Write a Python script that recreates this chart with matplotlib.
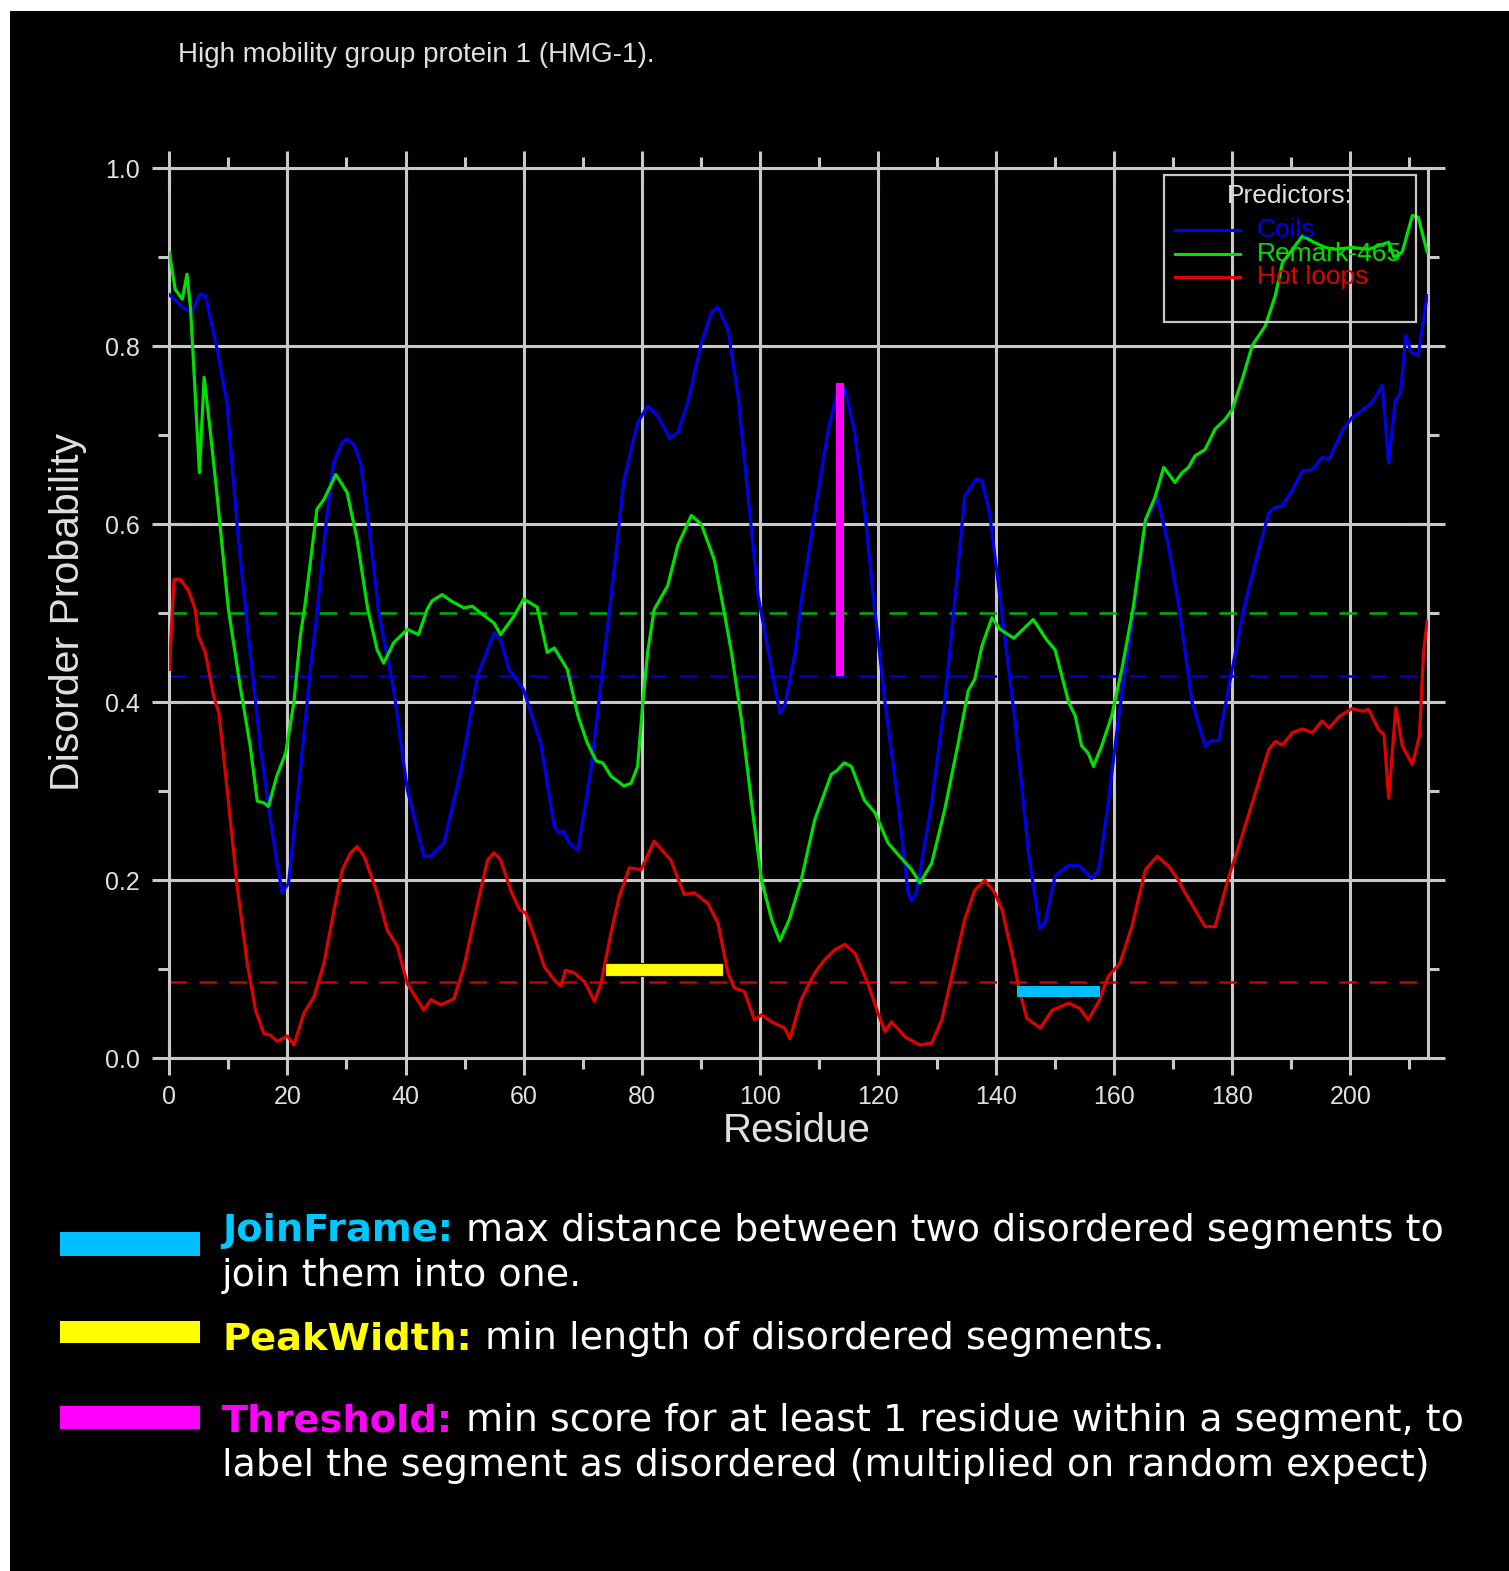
import numpy as np
import matplotlib
matplotlib.use("Agg")
import matplotlib.pyplot as plt
from matplotlib.patches import Rectangle

# ---------------- data ----------------
title = "High mobility group protein 1 (HMG-1)."
x_label = "Residue"
y_label = "Disorder Probability"
series_names = ["Coils", "Remark-465", "Hot loops"]
series_colors = ["#0000ee", "#00e000", "#e00000"]
threshold_colors = ["#0000c8", "#00b400", "#c80000"]

coils_x = [0, 1, 2.2, 3.8, 5.2, 6.1, 8.1, 9.75, 11.5, 12.9, 15.4, 17.7, 19.1, 20.2, 22.2, 23.9,
           25.0, 26.5, 27.8, 29.3, 30.1, 31.2, 32.4, 33.8, 35.5, 38, 40.3, 43.1, 44.3, 46.5, 49.4,
           52.2, 55, 56.1, 57.5, 60, 62.9, 65.2, 66, 66.8, 67.7, 69.2, 71.4, 74.5, 77, 79.3, 81,
           82.7, 84.7, 86.1, 87.8, 90.1, 91.8, 92.9, 94.6, 96.3, 98, 99.7, 102, 103.4, 104.2, 106,
           107, 109.3, 111.6, 113.2, 114.4, 116, 117.8, 119.2, 121.2, 123.4, 125.1, 125.7, 126.5,
           129.1, 131.3, 133, 134.7, 136.7, 137.6, 138.9, 141, 143.2, 145.5, 147.4, 148.3, 150,
           152.3, 154.2, 156.2, 157.4, 159, 160.7, 163.4, 165.3, 167.3, 169.2, 171, 173.2, 175.4,
           176.6, 177.7, 180, 182, 183.9, 186.2, 187.3, 188.5, 190.2, 191.9, 193.5, 195.2, 196.4,
           198.7, 200.3, 202, 203.7, 205.4, 206.5, 207.6, 208.5, 209.4, 210.3, 211.5, 213]
coils_y = [0.858, 0.852, 0.844, 0.838, 0.859, 0.857, 0.797, 0.737, 0.598, 0.505, 0.351, 0.242,
           0.186, 0.197, 0.324, 0.437, 0.5, 0.598, 0.669, 0.692, 0.696, 0.69, 0.669, 0.598, 0.5,
           0.414, 0.302, 0.227, 0.227, 0.242, 0.324, 0.43, 0.478, 0.47, 0.437, 0.414, 0.354, 0.26,
           0.253, 0.255, 0.242, 0.234, 0.324, 0.5, 0.65, 0.714, 0.733, 0.722, 0.697, 0.703, 0.737,
           0.804, 0.838, 0.844, 0.819, 0.745, 0.632, 0.52, 0.437, 0.388, 0.396, 0.456, 0.512,
           0.613, 0.707, 0.75, 0.752, 0.706, 0.613, 0.52, 0.4, 0.287, 0.186, 0.177, 0.186, 0.287,
           0.4, 0.512, 0.632, 0.651, 0.649, 0.613, 0.5, 0.38, 0.231, 0.146, 0.152, 0.205, 0.217,
           0.216, 0.202, 0.212, 0.287, 0.38, 0.506, 0.602, 0.63, 0.576, 0.506, 0.4, 0.351, 0.357,
           0.357, 0.437, 0.506, 0.557, 0.613, 0.619, 0.621, 0.639, 0.66, 0.661, 0.675, 0.673,
           0.706, 0.72, 0.728, 0.737, 0.756, 0.669, 0.739, 0.748, 0.812, 0.793, 0.79, 0.857]

remark_x = [0, 1, 2.2, 3, 3.6, 4.1, 5.1, 5.9, 6.9, 8.1, 9.5, 10, 12, 13.7, 14.9, 16, 16.8, 18.2,
            19.7, 21.1, 22.2, 23, 25, 26.2, 28.2, 30.1, 31.8, 33.6, 35.2, 36.3, 38, 40.3, 42.2,
            43.7, 44.5, 46.2, 47.7, 49.9, 51.3, 52.8, 55, 56.1, 58.4, 60, 62.3, 64, 65.2, 67.4,
            69.2, 70.8, 72.3, 73.4, 74.8, 77, 78.2, 79.3, 80.2, 81, 82.1, 84.4, 86.1, 88.4, 90.1,
            92.3, 94, 95.2, 96.9, 98.6, 100.3, 102, 103.4, 105, 107, 109.3, 112.1, 113, 114.3,
            115.5, 117.7, 119.5, 121.7, 123.4, 125.7, 127.1, 129.1, 131.3, 133.6, 135.3, 136.4,
            137.6, 139.3, 140.7, 143, 146.3, 148.6, 150, 152.3, 153.4, 154.5, 155.6, 156.5,
            157.9, 159.6, 161.3, 163.2, 165.3, 166.9, 168.4, 170.3, 171.5, 172.6, 173.7, 175.4,
            177.1, 178.8, 180, 181.7, 183.4, 185.6, 187.3, 188.5, 190.2, 191.9, 193.8, 195.8,
            197.5, 200.3, 203.1, 204.8, 206.5, 207.4, 208.8, 210.5, 211.5, 213]
remark_y = [0.905, 0.864, 0.853, 0.881, 0.842, 0.782, 0.658, 0.765, 0.707, 0.632, 0.538, 0.505,
            0.418, 0.351, 0.289, 0.287, 0.283, 0.317, 0.343, 0.4, 0.475, 0.51, 0.617, 0.628,
            0.656, 0.636, 0.583, 0.505, 0.459, 0.444, 0.467, 0.482, 0.476, 0.505, 0.514, 0.521,
            0.514, 0.506, 0.508, 0.5, 0.489, 0.476, 0.497, 0.516, 0.507, 0.456, 0.461, 0.437,
            0.385, 0.354, 0.334, 0.332, 0.317, 0.306, 0.309, 0.328, 0.4, 0.456, 0.504, 0.531,
            0.576, 0.61, 0.6, 0.56, 0.5, 0.456, 0.38, 0.287, 0.2, 0.156, 0.132, 0.156, 0.2, 0.268,
            0.319, 0.323, 0.332, 0.328, 0.29, 0.276, 0.242, 0.229, 0.212, 0.197, 0.219, 0.279,
            0.354, 0.413, 0.426, 0.463, 0.495, 0.482, 0.472, 0.493, 0.47, 0.459, 0.4, 0.385,
            0.351, 0.343, 0.328, 0.351, 0.385, 0.437, 0.505, 0.605, 0.63, 0.664, 0.647, 0.658,
            0.664, 0.677, 0.684, 0.707, 0.718, 0.729, 0.763, 0.801, 0.823, 0.857, 0.894, 0.909,
            0.924, 0.917, 0.911, 0.909, 0.911, 0.909, 0.913, 0.917, 0.9, 0.906, 0.947, 0.945, 0.906]

hot_x = [0, 0.8, 1.9, 3.3, 4.4, 4.9, 6.1, 7.5, 8.4, 9.8, 11.5, 13.2, 14.6, 16, 17.1, 18.3, 20,
         21.1, 22.8, 24.5, 26.2, 27.9, 29.3, 30.7, 31.8, 33, 35.2, 36.9, 38.6, 40.3, 43.1, 44.3,
         46, 48.2, 49.9, 52.2, 53.9, 55, 56.1, 57.8, 59.3, 60.4, 61.8, 63.5, 65.2, 66.3, 67.1,
         68.6, 70.3, 72, 73.1, 74.8, 76.2, 77.9, 79.9, 82.1, 83.8, 84.9, 87.2, 88.9, 91.2, 92.9,
         94.6, 95.7, 97.4, 99.1, 100.3, 102, 104.2, 105.1, 107, 109.3, 111, 112.7, 114.4, 116.1,
         118.3, 120, 121.2, 122.3, 124.6, 127.1, 129.1, 130.8, 132.5, 134.7, 136.4, 138.1,
         139.8, 141, 142.7, 143.8, 145.2, 147.5, 149.5, 152.3, 154.2, 155.6, 157.4, 159, 161,
         163, 165.3, 167.3, 169.2, 170.9, 172, 175.4, 177.1, 179.4, 181.1, 183.4, 186.2, 187.3,
         188.5, 190.2, 191.9, 193.6, 195.2, 196.4, 198.1, 200.3, 202, 203.1, 204.8, 205.7,
         206.5, 207.7, 208.8, 210.5, 211.7, 212.4, 213]
hot_y = [0.437, 0.538, 0.538, 0.525, 0.504, 0.475, 0.456, 0.407, 0.388, 0.302, 0.193, 0.107,
         0.054, 0.028, 0.026, 0.019, 0.025, 0.015, 0.051, 0.069, 0.107, 0.167, 0.212, 0.231,
         0.238, 0.227, 0.186, 0.144, 0.126, 0.084, 0.054, 0.066, 0.06, 0.067, 0.103, 0.174,
         0.223, 0.231, 0.223, 0.189, 0.167, 0.163, 0.137, 0.103, 0.088, 0.081, 0.099, 0.096,
         0.086, 0.064, 0.084, 0.141, 0.182, 0.214, 0.212, 0.244, 0.231, 0.223, 0.184, 0.186,
         0.174, 0.152, 0.096, 0.079, 0.075, 0.043, 0.049, 0.041, 0.034, 0.022, 0.066, 0.096,
         0.111, 0.122, 0.128, 0.118, 0.084, 0.051, 0.03, 0.041, 0.024, 0.015, 0.017, 0.043,
         0.092, 0.156, 0.189, 0.2, 0.186, 0.167, 0.118, 0.081, 0.045, 0.034, 0.054, 0.062,
         0.056, 0.043, 0.064, 0.092, 0.107, 0.148, 0.212, 0.227, 0.216, 0.2, 0.186, 0.148,
         0.148, 0.204, 0.238, 0.287, 0.347, 0.356, 0.352, 0.366, 0.37, 0.366, 0.379, 0.371,
         0.384, 0.393, 0.39, 0.392, 0.369, 0.364, 0.292, 0.394, 0.351, 0.33, 0.362, 0.456, 0.491]

thresholds = [0.43, 0.50, 0.086]          # Coils, Remark-465, Hot loops cut-offs
threshold_bar_x = 113.6                   # magenta Threshold marker
threshold_bar_range = [0.43, 0.759]
peakwidth_range = [73.8, 93.8]            # yellow PeakWidth marker
peakwidth_level = [0.0925, 0.107]
joinframe_range = [143.6, 157.6]          # cyan JoinFrame marker
joinframe_level = [0.069, 0.081]

x_major = list(range(0, 201, 20))
x_minor = list(range(10, 211, 20))
y_major = [0.0, 0.2, 0.4, 0.6, 0.8, 1.0]
y_minor = [0.1, 0.3, 0.5, 0.7, 0.9]
x_max = 213.1

notes = [
    ("JoinFrame:", "#00c8ff", "max distance between two disordered segments to", "join them into one."),
    ("PeakWidth:", "#ffff00", "min length of disordered segments.", None),
    ("Threshold:", "#ff00ff", "min score for at least 1 residue within a segment, to",
     "label the segment as disordered (multiplied on random expect)"),
]
swatch_colors = ["#00bfff", "#ffff00", "#ff00ff"]

# ---------------- figure ----------------
W, H = 1509, 1571
fig = plt.figure(figsize=(W / 100, H / 100), dpi=100, facecolor="white")
fig.add_artist(Rectangle((10 / W, 0), 1 - 10 / W, 1 - 11 / H, transform=fig.transFigure,
                         facecolor="black", edgecolor="none", zorder=-5))


def fx(px):
    return px / W


def fy(py):
    return 1 - py / H


gc = "#c8c8c8"
tc = "#e0e0e0"
sans = ["Liberation Sans", "DejaVu Sans"]

ax = fig.add_axes([fx(169.3), fy(1058.3), 1258.4 / W, 890 / H])
ax.set_facecolor("black")
ax.set_xlim(0, x_max)
ax.set_ylim(0, 1)
for s in ax.spines.values():
    s.set_color(gc)
    s.set_linewidth(2.2)
ax.set_xticks(x_major)
ax.set_xticks(x_minor, minor=True)
ax.set_yticks(y_major)
ax.set_yticks(y_minor, minor=True)
ax.set_xticklabels([str(v) for v in x_major])
ax.set_yticklabels([f"{v:.1f}" for v in y_major])
ax.tick_params(which="major", direction="inout", length=24, width=2.2, color=gc,
               top=True, right=True, labelcolor=tc, labelsize=18)
ax.tick_params(axis="x", which="major", pad=7)
ax.tick_params(axis="y", which="major", pad=9)
ax.tick_params(which="minor", direction="out", length=8, width=2.2, color=gc,
               top=True, right=True)
for lab in ax.get_xticklabels() + ax.get_yticklabels():
    lab.set_family(sans)
ax.grid(which="major", color=gc, linewidth=2.2)
ax.set_axisbelow(True)

# threshold dashed lines
for thr, c in zip(thresholds, threshold_colors):
    ax.axhline(thr, color=c, linewidth=1.8, dashes=(7, 5), zorder=2)

# predictor curves
for xs, ys, c in zip([coils_x, remark_x, hot_x], [coils_y, remark_y, hot_y], series_colors):
    ax.plot(xs, ys, color=c, linewidth=2.3, zorder=3, solid_joinstyle="round")

# markers
ax.vlines(threshold_bar_x, threshold_bar_range[0], threshold_bar_range[1], color="#ff00ff",
          linewidth=5.8, zorder=4)
ax.add_patch(Rectangle((peakwidth_range[0], peakwidth_level[0]),
                       peakwidth_range[1] - peakwidth_range[0],
                       peakwidth_level[1] - peakwidth_level[0],
                       facecolor="#ffff00", edgecolor="#202000", linewidth=0.8, zorder=4))
ax.add_patch(Rectangle((joinframe_range[0], joinframe_level[0]),
                       joinframe_range[1] - joinframe_range[0],
                       joinframe_level[1] - joinframe_level[0],
                       facecolor="#00bfff", edgecolor="none", zorder=4))

# legend box (transparent, drawn by hand)
ax.add_patch(Rectangle((0.7905, 0.8273), 0.9907 - 0.7905, 0.9925 - 0.8273, transform=ax.transAxes,
                       facecolor="none", edgecolor=gc, linewidth=1.6, zorder=5))
ax.text(0.8906, 0.9685, "Predictors:", transform=ax.transAxes, ha="center", va="center",
        color=tc, fontsize=19, family=sans, zorder=6)
for i, (name, c) in enumerate(zip(series_names, series_colors)):
    yy = [0.9308, 0.9039, 0.8780][i]
    ax.plot([0.7992, 0.8509], [yy, yy], transform=ax.transAxes, color=c, linewidth=2.2, zorder=6)
    ax.text(0.8643, yy, name, transform=ax.transAxes, ha="left", va="center", color=c,
            fontsize=19, family=sans, zorder=6)

# titles
fig.text(fx(178), fy(55), title, ha="left", va="center", color=tc, fontsize=20, family=sans)
fig.text(fx(797), fy(1131), x_label, ha="center", va="center", color=tc, fontsize=29, family=sans)
fig.text(fx(68), fy(612), y_label, ha="center", va="center", rotation=90, color=tc,
         fontsize=29.5, family=sans)

# explanatory notes at the bottom
swatch_y = [(1232, 1256), (1321, 1343), (1406, 1429)]
baselines = [(1241, 1286), (1349, None), (1431, 1476)]
renderer = fig.canvas.get_renderer()
for (key, kc, rest, line2), sc, (sy0, sy1), (b1, b2) in zip(notes, swatch_colors, swatch_y, baselines):
    fig.add_artist(Rectangle((fx(60), fy(sy1)), (200 - 60) / W, (sy1 - sy0) / H,
                             transform=fig.transFigure, facecolor=sc, edgecolor="none"))
    t = fig.text(fx(222), fy(b1), key, ha="left", va="baseline", color=kc, fontsize=27.6,
                 fontweight="bold", family="DejaVu Sans")
    bb = t.get_window_extent(renderer)
    fig.text(bb.x1 / W + 13 / W, fy(b1), rest, ha="left", va="baseline", color="white",
             fontsize=27.4, family="DejaVu Sans")
    if line2:
        fig.text(fx(222), fy(b2), line2, ha="left", va="baseline", color="white",
                 fontsize=27.4, family="DejaVu Sans")

fig.savefig("out.png", dpi=100, facecolor=fig.get_facecolor())
